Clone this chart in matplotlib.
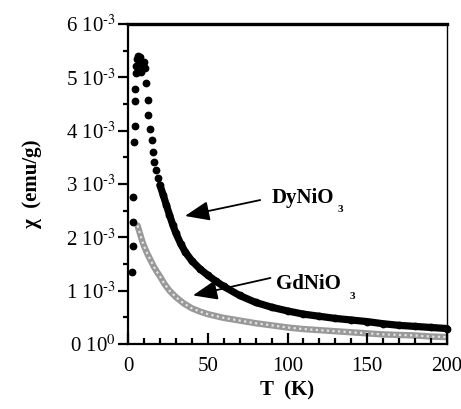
import numpy as np
import matplotlib
matplotlib.use('Agg')
import matplotlib.pyplot as plt
from matplotlib.ticker import MultipleLocator

plt.rcParams['font.family'] = ['Liberation Serif', 'DejaVu Serif']
plt.rcParams['mathtext.fontset'] = 'stix'

##DyNiO3, low temperature scattered points (T in K, chi in 1e-3 emu/g)
t_dy_low = [2.5, 3, 3, 3, 3.8, 4.4, 4.4, 4.4, 5, 5.2, 5.8, 6.5, 7.2, 7.8, 8.5,
            9.2, 10, 10.8, 6, 8, 11.3, 12.5, 12.5, 13.8, 15, 15.7, 16.3, 17.5, 18.8]
chi_dy_low = [1.35, 1.83, 2.28, 2.75, 3.78, 4.09, 4.56, 4.79, 5.08, 5.22, 5.35, 5.4,
              5.32, 5.38, 5.28, 5.2, 5.28, 5.18, 5.1, 5.1, 4.9, 4.58, 4.30, 4.04,
              3.83, 3.6, 3.42, 3.27, 3.12]

##DyNiO3, dense part of the curve
t_dy = [20, 22, 24, 26, 28, 30, 33, 36, 40, 45, 50, 55, 60, 70, 80, 90, 100,
        110, 120, 130, 140, 150, 160, 170, 180, 190, 200]
chi_dy = [2.98, 2.80, 2.61, 2.42, 2.24, 2.08, 1.88, 1.72, 1.56, 1.41, 1.29, 1.18,
          1.08, 0.91, 0.78, 0.69, 0.62, 0.56, 0.52, 0.48, 0.45, 0.42, 0.38, 0.35,
          0.33, 0.31, 0.29]

##GdNiO3
t_gd = [6, 7, 8, 9, 10, 12, 14, 16, 18, 20, 23, 26, 30, 35, 40, 45, 50, 60, 70,
        80, 90, 100, 110, 120, 130, 140, 150, 160, 170, 180, 190, 200]
chi_gd = [2.22, 2.12, 2.02, 1.92, 1.84, 1.70, 1.58, 1.46, 1.36, 1.27, 1.12, 1.00,
          0.88, 0.76, 0.67, 0.61, 0.56, 0.49, 0.44, 0.39, 0.35, 0.31, 0.28, 0.26,
          0.24, 0.22, 0.20, 0.18, 0.17, 0.16, 0.14, 0.13]

y_ticks = [0, 1, 2, 3, 4, 5, 6]
y_ticklabels = ['0 10$^{0}$', '1 10$^{\u2010 3}$', '2 10$^{\u2010 3}$', '3 10$^{\u2010 3}$',
                '4 10$^{\u2010 3}$', '5 10$^{\u2010 3}$', '6 10$^{\u2010 3}$']
x_ticks = [0, 50, 100, 150, 200]

fig = plt.figure(figsize=(4.61, 4.09), dpi=100)
ax = fig.add_axes([0.2777, 0.1589, 0.6919, 0.7824])

##GdNiO3 as a grey speckled band
ax.plot(t_gd, chi_gd, color='#999999', lw=4.6, solid_capstyle='round', zorder=1.2)
ax.plot(t_gd, chi_gd, color='#e4e4e4', lw=1.6, ls=(0, (1, 1.5)), zorder=1.3)

##DyNiO3
ax.plot(t_dy, chi_dy, color='k', lw=5.2, solid_capstyle='round', zorder=1.5,
        clip_on=False)
ax.plot(t_dy, chi_dy, 'o', color='k', ms=4.6, zorder=1.5, clip_on=False)
ax.plot(t_dy_low, chi_dy_low, 'o', color='k', ms=4.6, zorder=1.5)

ax.set_xlim(0, 200)
ax.set_ylim(0, 6)
ax.set_xticks(x_ticks)
ax.set_yticks(y_ticks)
ax.set_yticklabels(y_ticklabels)
ax.xaxis.set_minor_locator(MultipleLocator(10))
ax.yaxis.set_minor_locator(MultipleLocator(0.5))
ax.tick_params(axis='x', which='major', direction='in', length=8, width=1.6,
               labelsize=15, pad=9)
ax.tick_params(axis='x', which='minor', direction='in', length=4, width=1.6)
ax.tick_params(axis='y', which='major', direction='out', length=7, width=1.6,
               labelsize=15, pad=2)
ax.tick_params(axis='y', which='minor', direction='out', length=3.5, width=1.6)

ax.spines['top'].set_linewidth(2.4)
ax.spines['left'].set_linewidth(1.6)
ax.spines['bottom'].set_linewidth(1.6)
ax.spines['right'].set_linewidth(1.0)

ax.set_xlabel('T  (K)', fontsize=15, fontweight='bold')
ax.set_ylabel('χ  (emu/g)', fontsize=15, fontweight='bold')
ax.xaxis.set_label_coords(0.5, -0.115)
ax.yaxis.set_label_coords(-0.27, 0.5)

##annotations
ax.annotate('', xy=(34, 2.39), xytext=(84.6, 2.71),
            arrowprops=dict(arrowstyle='-|>,head_length=1.0,head_width=0.4',
                            mutation_scale=15, lw=1.3, color='k'))
ax.annotate('', xy=(39, 0.90), xytext=(91, 1.25),
            arrowprops=dict(arrowstyle='-|>,head_length=1.0,head_width=0.4',
                            mutation_scale=15, lw=1.3, color='k'))
ax.text(90.3, 2.65, 'DyNiO', fontsize=15, fontweight='bold', ha='left', va='baseline')
ax.text(131.7, 2.52, '3', fontsize=8, fontweight='bold', ha='left', va='center')
ax.text(92.8, 1.04, 'GdNiO', fontsize=15, fontweight='bold', ha='left', va='baseline')
ax.text(139, 0.90, '3', fontsize=8, fontweight='bold', ha='left', va='center')

plt.savefig('out.png', dpi=100)
